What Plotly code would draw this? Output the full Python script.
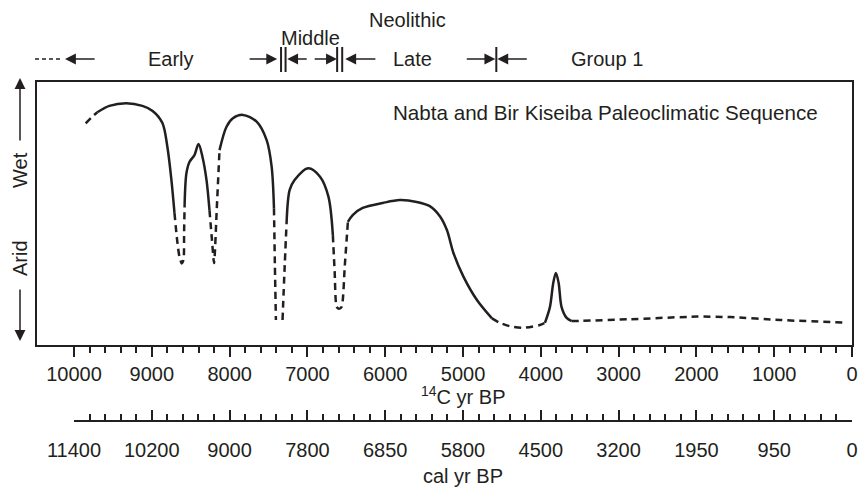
import plotly.graph_objects as go

# Radiocarbon axis ticks (14C yr BP) and the matching calendar ages
c14_ticks = [10000, 9000, 8000, 7000, 6000, 5000, 4000, 3000, 2000, 1000, 0]
cal_labels = ["11400", "10200", "9000", "7800", "6850", "5800",
              "4500", "3200", "1950", "950", "0"]
minor_ticks = list(range(0, 10001, 200))

# Moisture curve, piece by piece (age in 14C yr BP, relative wetness 0-100)
# dashed pieces are inferred, solid pieces are documented wet phases
dash1_age = [9850, 9775, 9700]
dash1_val = [84.3, 86.6, 88.5]
wet1_age = [9700, 9546, 9330, 9121, 8990, 8864, 8800, 8748, 8709]
wet1_val = [88.5, 90.9, 91.9, 90.9, 89.0, 84.4, 75.3, 62.7, 50.2]
dash2_age = [8709, 8675, 8645, 8615, 8592, 8585, 8578]
dash2_val = [50.2, 40.0, 33.5, 31.0, 32.5, 43.0, 54.0]
wet2_age = [8578, 8555, 8516, 8452, 8400, 8349, 8297, 8259]
wet2_val = [54.0, 65.4, 69.6, 72.2, 76.4, 71.5, 62.7, 51.3]
dash3_age = [8259, 8230, 8200, 8165, 8130]
dash3_val = [51.3, 41.0, 31.2, 52.0, 74.1]
wet3_age = [8130, 8040, 7958, 7830, 7653, 7524, 7460, 7430]
wet3_val = [74.1, 83.0, 86.2, 87.5, 84.9, 77.9, 67.8, 52.0]
dash4_age = [7430, 7418, 7405]
dash4_val = [52.0, 30.0, 9.5]
dash5_age = [7320, 7295, 7268]
dash5_val = [9.5, 28.0, 46.4]
wet4_age = [7268, 7229, 7165, 6990, 6838, 6730, 6673]
wet4_val = [46.4, 58.9, 62.7, 67.2, 64.0, 56.4, 41.8]
dash6_age = [6673, 6650, 6625, 6595, 6560, 6520, 6480]
dash6_val = [41.8, 28.0, 14.5, 13.8, 14.5, 30.0, 46.8]
wet5_age = [6480, 6418, 6290, 6032, 5813, 5595, 5427, 5293, 5207,
            5122, 4993, 4821, 4628]
wet5_val = [46.8, 49.4, 52.1, 54.0, 55.1, 54.4, 52.8, 48.8, 43.7,
            34.9, 25.9, 17.1, 10.1]
dash7_age = [4628, 4526, 4380, 4230, 4012, 3947]
dash7_val = [10.1, 8.4, 7.0, 6.5, 7.6, 8.4]
wet6_age = [3947, 3883, 3840, 3806, 3771, 3733, 3668, 3604]
wet6_val = [8.4, 14.4, 23.6, 27.4, 23.6, 14.4, 10.3, 9.1]
dash8_age = [3604, 3470, 2849, 1991, 1563, 920, 84]
dash8_val = [9.1, 9.2, 9.8, 10.8, 10.6, 9.5, 8.5]

# Neolithic period boundaries (14C yr BP)
boundary_bars = [7339, 7281, 6618, 6553, 4572]
# arrows pointing at the boundaries: (tail, tip)
boundary_arrows = [(9716, 10116), (7762, 7389), (6990, 7260),
                   (6926, 6621), (6107, 6514), (4971, 4585), (4161, 4559)]
period_names = ["Early", "Middle", "Late", "Group 1", "Neolithic"]
period_pos = [8750, 6955, 5650, 3148, 5718]

INK = "#231f20"
FONT = "Liberation Sans, Arial, Helvetica, sans-serif"

pieces = [
    (dash1_age, dash1_val, "dash"), (wet1_age, wet1_val, "solid"),
    (dash2_age, dash2_val, "dash"), (wet2_age, wet2_val, "solid"),
    (dash3_age, dash3_val, "dash"), (wet3_age, wet3_val, "solid"),
    (dash4_age, dash4_val, "dash"), (dash5_age, dash5_val, "dash"),
    (wet4_age, wet4_val, "solid"), (dash6_age, dash6_val, "dash"),
    (wet5_age, wet5_val, "solid"), (dash7_age, dash7_val, "dash"),
    (wet6_age, wet6_val, "solid"), (dash8_age, dash8_val, "dash"),
]

fig = go.Figure()
for ages, vals, style in pieces:
    fig.add_trace(go.Scatter(
        x=ages, y=vals, mode="lines",
        line=dict(color=INK, width=2.5, shape="spline",
                  smoothing=0.9 if style == "solid" else 0.6,
                  dash="solid" if style == "solid" else "7px,5px"),
        showlegend=False, hoverinfo="skip",
    ))

# empty trace so the calendar-age axis is laid out
fig.add_trace(go.Scatter(x=[], y=[], xaxis="x2", yaxis="y",
                         showlegend=False, hoverinfo="skip"))

W, H = 863, 487
ML, MR, MT, MB = 37, 11, 82, 66
plot_w = W - ML - MR
plot_h = H - MT - MB


def py(pix):
    """pixel row -> paper y"""
    return (H - MB - pix) / plot_h


def px(pix):
    """pixel column -> paper x"""
    return (pix - ML) / plot_w


annotations = []
shapes = []
tfont = dict(family=FONT, size=20, color=INK)

# period labels
for name, pos in zip(period_names, period_pos):
    yrow = {"Middle": 38, "Neolithic": 20}.get(name, 59)
    annotations.append(dict(x=pos, xref="x", y=py(yrow), yref="paper",
                            text=name, showarrow=False, font=tfont,
                            xanchor="center", yanchor="middle"))

# boundary arrows
for tail, tip in boundary_arrows:
    annotations.append(dict(x=tip, xref="x", y=py(59), yref="paper",
                            ax=tail, axref="x", ay=0, text="",
                            showarrow=True, arrowhead=2, arrowsize=1.45,
                            arrowwidth=1.5, arrowcolor=INK, standoff=0))

# boundary bars
for b in boundary_bars:
    shapes.append(dict(type="line", xref="x", yref="paper", x0=b, x1=b,
                       y0=py(47), y1=py(72), line=dict(color=INK, width=2)))

# dashed lead-in on the left of the period row
shapes.append(dict(type="line", xref="paper", yref="paper",
                   x0=px(35), x1=px(60), y0=py(59), y1=py(59),
                   line=dict(color=INK, width=1.5, dash="4px,3px")))

# Wet / Arid axis arrows and labels
annotations.append(dict(x=px(20), y=py(78), xref="paper", yref="paper",
                        ax=0, ay=64, text="", showarrow=True, arrowhead=2,
                        arrowsize=1.45, arrowwidth=1.5, arrowcolor=INK,
                        standoff=0))
annotations.append(dict(x=px(20), y=py(341), xref="paper", yref="paper",
                        ax=0, ay=-53, text="", showarrow=True, arrowhead=2,
                        arrowsize=1.45, arrowwidth=1.5, arrowcolor=INK,
                        standoff=0))
annotations.append(dict(x=px(20), y=py(170), xref="paper", yref="paper",
                        text="Wet", textangle=-90, showarrow=False,
                        font=tfont, xanchor="center", yanchor="middle"))
annotations.append(dict(x=px(20), y=py(258), xref="paper", yref="paper",
                        text="Arid", textangle=-90, showarrow=False,
                        font=tfont, xanchor="center", yanchor="middle"))

# chart title inside the frame
annotations.append(dict(x=px(820), y=py(113), xref="paper", yref="paper",
                        text="Nabta and Bir Kiseiba Paleoclimatic Sequence",
                        showarrow=False,
                        font=dict(family=FONT, size=20.6, color=INK),
                        xanchor="right", yanchor="middle"))

# radiocarbon axis title
annotations.append(dict(x=5000, xref="x", y=py(395), yref="paper",
                        text="<sup>14</sup>C yr BP", showarrow=False,
                        font=tfont, xanchor="center", yanchor="middle"))

fig.update_layout(
    width=W, height=H,
    margin=dict(l=ML, r=MR, t=MT, b=MB, pad=0, autoexpand=False),
    paper_bgcolor="white", plot_bgcolor="rgba(0,0,0,0)",
    font=dict(family=FONT, size=20, color=INK),
    showlegend=False,
    xaxis=dict(
        range=[10476, 0], autorange=False, domain=[0, 1],
        tickmode="array", tickvals=c14_ticks,
        ticktext=[str(t) for t in c14_ticks],
        ticks="outside", ticklen=10, tickwidth=1.5, tickcolor=INK,
        minor=dict(tickmode="array", tickvals=minor_ticks,
                   ticks="outside", ticklen=6, tickwidth=1.5,
                   tickcolor=INK),
        showline=True, linewidth=1.8, linecolor=INK, mirror=True,
        showgrid=False, zeroline=False, tickfont=tfont,
        anchor="y", automargin=False,
    ),
    xaxis2=dict(
        range=[10000, 0], autorange=False,
        domain=[px(74), 1], anchor="free", position=0, side="bottom",
        tickmode="array", tickvals=c14_ticks, ticktext=cal_labels,
        ticks="inside", ticklen=10, tickwidth=1.5, tickcolor=INK,
        minor=dict(tickmode="array", tickvals=minor_ticks,
                   ticks="inside", ticklen=6, tickwidth=1.5,
                   tickcolor=INK),
        ticklabelstandoff=11,
        showline=True, linewidth=1.8, linecolor=INK,
        showgrid=False, zeroline=False, tickfont=tfont,
        title=dict(text="cal yr BP", font=tfont, standoff=12),
        automargin=False,
    ),
    yaxis=dict(
        range=[0, 100], autorange=False, domain=[py(345), 1],
        showticklabels=False, ticks="", showgrid=False, zeroline=False,
        showline=True, linewidth=1.8, linecolor=INK, mirror=True,
        anchor="x", automargin=False,
    ),
    annotations=annotations,
    shapes=shapes,
)

fig.write_html("out.html")
